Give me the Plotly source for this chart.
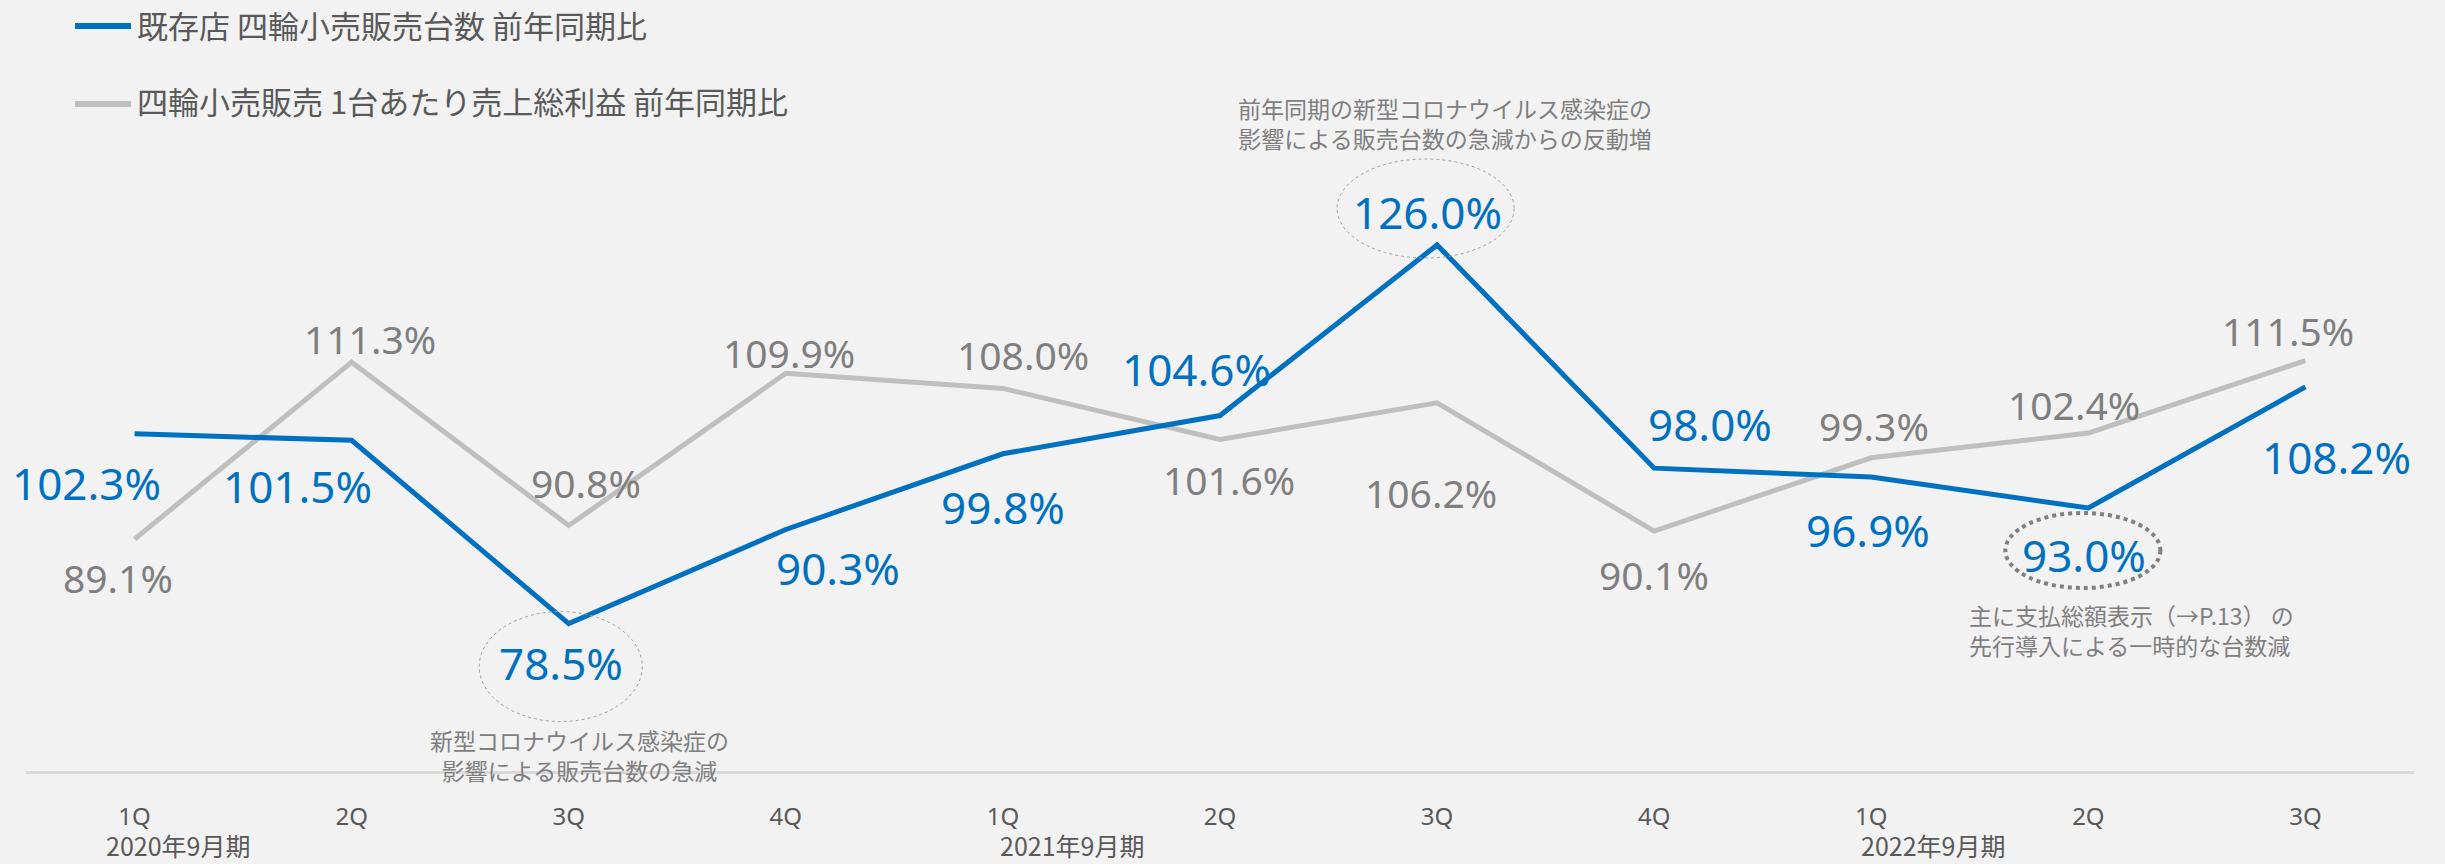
import plotly.graph_objects as go

# ---------------- data ----------------
quarters = ["1Q", "2Q", "3Q", "4Q", "1Q", "2Q", "3Q", "4Q", "1Q", "2Q", "3Q"]
fiscal_years = ["2020年9月期", "2021年9月期", "2022年9月期"]
fiscal_year_start_idx = [0, 4, 8]

series_units_name = "既存店 四輪小売販売台数 前年同期比"
series_units = [102.3, 101.5, 78.5, 90.3, 99.8, 104.6, 126.0, 98.0, 96.9, 93.0, 108.2]

series_profit_name = "四輪小売販売 1台あたり売上総利益 前年同期比"
series_profit = [89.1, 111.3, 90.8, 109.9, 108.0, 101.6, 106.2, 90.1, 99.3, 102.4, 111.5]

note_covid_drop = "新型コロナウイルス感染症の<br>影響による販売台数の急減"
note_covid_rebound = "前年同期の新型コロナウイルス感染症の<br>影響による販売台数の急減からの反動増"
note_total_price = "主に支払総額表示（→P.13） の<br>先行導入による一時的な台数減"

# ---------------- styling / layout ----------------
W, H = 2445, 864
ML, MR, MT, MB = 26, 31, 0, 93
PLOT_H = H - MT - MB
PX_PER_UNIT = 7.97
Y_MIN = 60
Y_MAX = Y_MIN + PLOT_H / PX_PER_UNIT

BLUE = "#0070C0"
GRAY_LINE = "#BFBFBF"
GRAY_TEXT = "#7F7F7F"
DARK_TEXT = "#595959"
BG = "#F2F2F2"
FONT = "Noto Sans, Noto Sans CJK JP"
FONT_CJK = "Noto Sans CJK JP"

# label offsets in px (dx right, dy down) relative to the point
units_label_off = [(-48, 49), (-54, 46), (-8, 39), (52, 38), (0, 53), (-24, -47),
                   (-10, -33), (56, -44), (-3, 53), (-4, 47), (31, 70)]
profit_label_off = [(-17, 38), (18, -24), (17, -43), (3, -21), (20, -34), (9, 40),
                    (-6, 90), (0, 43), (3, -32), (-14, -29), (-17, -30)]

x_idx = list(range(len(quarters)))

fig = go.Figure()
fig.add_trace(go.Scatter(x=x_idx, y=series_profit, mode="lines", name=series_profit_name,
                         line=dict(color=GRAY_LINE, width=5), showlegend=False, hoverinfo="skip"))
fig.add_trace(go.Scatter(x=x_idx, y=series_units, mode="lines", name=series_units_name,
                         line=dict(color=BLUE, width=5), showlegend=False, hoverinfo="skip"))

annotations = []
for i, v in enumerate(series_profit):
    dx, dy = profit_label_off[i]
    annotations.append(dict(x=i, y=v, xref="x", yref="y", text=f"{v:.1f}%", showarrow=False,
                            xshift=dx, yshift=-dy, font=dict(family=FONT, size=39, color=GRAY_TEXT)))
for i, v in enumerate(series_units):
    dx, dy = units_label_off[i]
    annotations.append(dict(x=i, y=v, xref="x", yref="y", text=f"{v:.1f}%", showarrow=False,
                            xshift=dx, yshift=-dy, font=dict(family=FONT, size=44, color=BLUE)))

# callout notes
annotations.append(dict(x=2, y=series_units[2], xref="x", yref="y", text=note_covid_drop,
                        showarrow=False, xshift=11, yshift=-131, align="center",
                        font=dict(family=FONT_CJK, size=23, color=GRAY_TEXT)))
annotations.append(dict(x=6, y=series_units[6], xref="x", yref="y", text=note_covid_rebound,
                        showarrow=False, xshift=8, yshift=122, align="center",
                        font=dict(family=FONT_CJK, size=23, color=GRAY_TEXT)))
annotations.append(dict(x=9, y=series_units[9], xref="x", yref="y", text=note_total_price,
                        showarrow=False, xshift=-121, yshift=-122, xanchor="left", align="left",
                        font=dict(family=FONT_CJK, size=23, color=GRAY_TEXT)))

# fiscal-year labels under the quarter ticks
year_shift = [-31, -5, -12]
for lab, idx, sh in zip(fiscal_years, fiscal_year_start_idx, year_shift):
    annotations.append(dict(x=idx, y=-(845 - MT) / PLOT_H + 1, xref="x", yref="paper", text=lab,
                            showarrow=False, xanchor="left", yanchor="middle", xshift=sh,
                            font=dict(family=FONT_CJK, size=25, color=DARK_TEXT)))

# manual legend
def paper_x(px):
    return (px - ML) / (W - ML - MR)

def paper_y(py):
    return 1 - (py - MT) / PLOT_H

shapes = []
legend_items = [(series_units_name, BLUE, 26, 25), (series_profit_name, GRAY_LINE, 104, 101)]
for name, col, ly, ty in legend_items:
    shapes.append(dict(type="line", xref="paper", yref="paper", x0=paper_x(75), x1=paper_x(131),
                       y0=paper_y(ly), y1=paper_y(ly), line=dict(color=col, width=6)))
    annotations.append(dict(x=paper_x(135), y=paper_y(ty), xref="paper", yref="paper", text=name,
                            showarrow=False, xanchor="left", yanchor="middle",
                            font=dict(family=FONT_CJK, size=31, color=DARK_TEXT)))

# ellipses around highlighted values (pixel sized, anchored on the points)
def ellipse(idx, val, cx, cy, w, h, color, width, dash):
    return dict(type="circle", xref="x", yref="y", xsizemode="pixel", ysizemode="pixel",
                xanchor=idx, yanchor=val, x0=cx - w / 2, x1=cx + w / 2,
                y0=-cy - h / 2, y1=-cy + h / 2, line=dict(color=color, width=width, dash=dash),
                layer="above")

shapes.append(ellipse(2, series_units[2], -8, 43, 163, 110, "#A0A0A0", 1, "dot"))
shapes.append(ellipse(6, series_units[6], -11.5, -36.5, 177, 99, "#A0A0A0", 1, "dot"))
shapes.append(ellipse(9, series_units[9], -5.5, 42.5, 155, 75, "#808080", 4, "dot"))

fig.update_layout(
    width=W, height=H,
    margin=dict(l=ML, r=MR, t=MT, b=MB, pad=0),
    paper_bgcolor=BG, plot_bgcolor=BG,
    showlegend=False,
    annotations=annotations,
    shapes=shapes,
    xaxis=dict(tickmode="array", tickvals=x_idx, ticktext=quarters, range=[-0.5, len(quarters) - 0.5],
               showgrid=False, zeroline=False, showline=True, linecolor="#D9D9D9", linewidth=3,
               ticks="outside", ticklen=22, tickcolor=BG,
               tickfont=dict(family=FONT, size=24, color=DARK_TEXT)),
    yaxis=dict(range=[Y_MIN, Y_MAX], visible=False, showgrid=False, zeroline=False),
)

fig.write_html("out.html", config={"displayModeBar": False},
               post_script="document.body.style.margin='0';document.body.style.background='#F2F2F2';")
